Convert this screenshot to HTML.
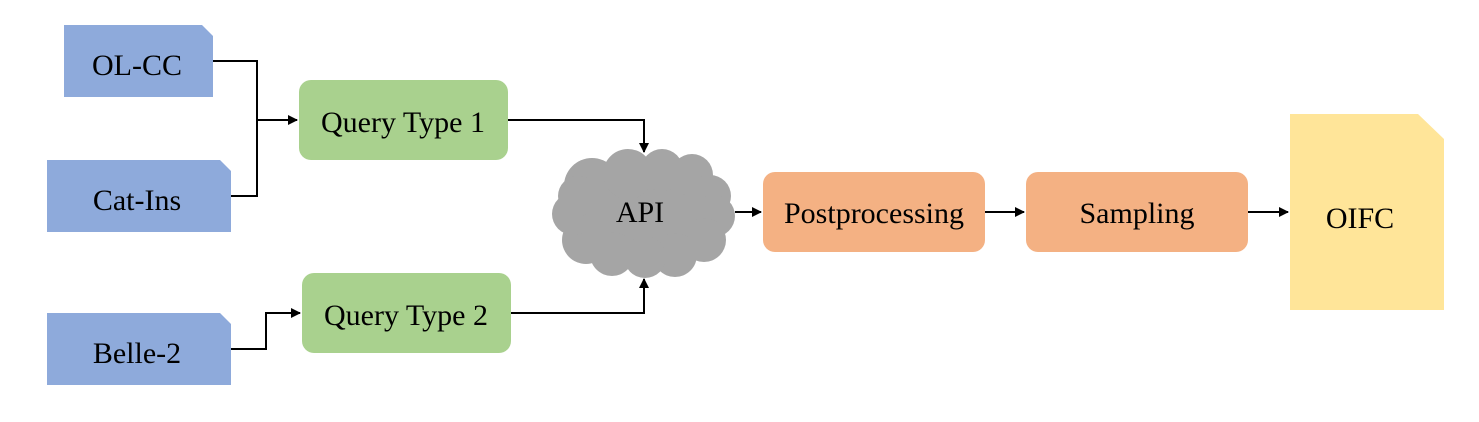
<!DOCTYPE html>
<html><head><meta charset="utf-8"><style>
html,body{margin:0;padding:0;background:#fff;}
svg{display:block;}
text{font-family:"Liberation Serif",serif;font-size:30px;fill:#000;}
</style></head><body>
<svg width="1479" height="422" viewBox="0 0 1479 422" xmlns="http://www.w3.org/2000/svg">
<defs><marker id="a" markerWidth="10" markerHeight="10" refX="9" refY="5" orient="auto" markerUnits="userSpaceOnUse"><path d="M0,0 L10,5 L0,10 z" fill="#000"/></marker></defs>
<path d="M64,25 H202 L213,36 V97 H64 Z" fill="#8eaadb"/>
<path d="M47,160 H220 L231,171 V232 H47 Z" fill="#8eaadb"/>
<path d="M47,313 H220 L231,324 V385 H47 Z" fill="#8eaadb"/>
<path d="M1290,114 H1418 L1444,139 V310 H1290 Z" fill="#ffe599"/>
<text x="137" y="75" text-anchor="middle">OL-CC</text>
<text x="137" y="210" text-anchor="middle">Cat-Ins</text>
<text x="137" y="363" text-anchor="middle">Belle-2</text>
<text x="1360" y="228" text-anchor="middle">OIFC</text>
<rect x="299" y="80" width="209" height="80" rx="12" fill="#a9d18e"/>
<rect x="302" y="273" width="209" height="80" rx="12" fill="#a9d18e"/>
<rect x="763" y="172" width="222" height="80" rx="12" fill="#f4b183"/>
<rect x="1026" y="172" width="222" height="80" rx="12" fill="#f4b183"/>
<text x="403" y="132" text-anchor="middle">Query Type 1</text>
<text x="406" y="325" text-anchor="middle">Query Type 2</text>
<text x="874" y="223" text-anchor="middle">Postprocessing</text>
<text x="1137" y="223" text-anchor="middle">Sampling</text>
<g fill="#a5a5a5">
<ellipse cx="643" cy="212" rx="72" ry="48"/>
<circle cx="592" cy="186" r="28"/>
<circle cx="628" cy="174" r="25"/>
<circle cx="662" cy="170" r="21"/>
<circle cx="692" cy="175" r="21"/>
<circle cx="710" cy="196" r="21"/>
<circle cx="714" cy="216" r="21"/>
<circle cx="704" cy="240" r="22"/>
<circle cx="675" cy="255" r="22"/>
<circle cx="645" cy="257" r="21"/>
<circle cx="612" cy="254" r="22"/>
<circle cx="586" cy="240" r="24"/>
<circle cx="573" cy="214" r="21"/>
<circle cx="578" cy="196" r="20"/>
</g>
<text x="640" y="222" text-anchor="middle">API</text>
<g stroke="#000" stroke-width="2" fill="none">
<path d="M213,61 H257 V196 H231"/>
<path d="M257,120 H297" marker-end="url(#a)"/>
<path d="M231,349 H266 V313 H300" marker-end="url(#a)"/>
<path d="M508,120 H644 V152" marker-end="url(#a)"/>
<path d="M511,313 H644 V279" marker-end="url(#a)"/>
<path d="M735,212 H761" marker-end="url(#a)"/>
<path d="M985,212 H1024" marker-end="url(#a)"/>
<path d="M1248,212 H1288" marker-end="url(#a)"/>
</g>
</svg>
</body></html>
